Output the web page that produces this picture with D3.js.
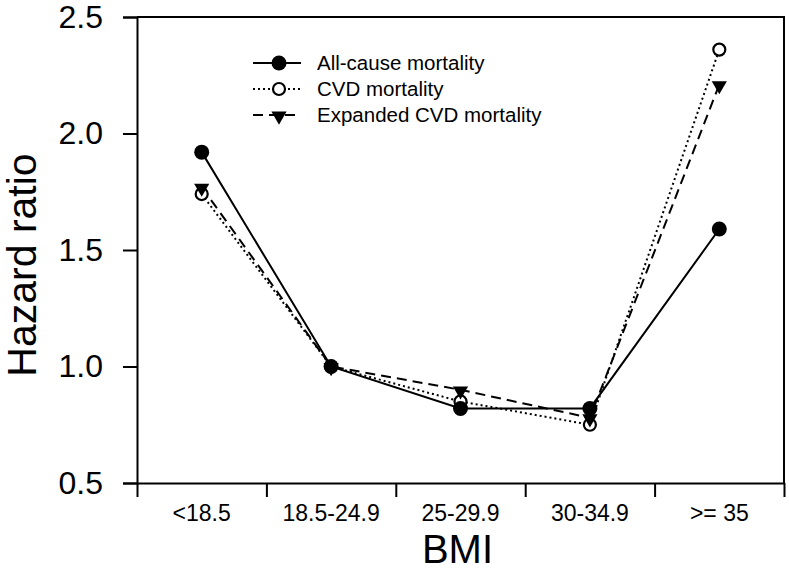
<!DOCTYPE html>
<html>
<head>
<meta charset="utf-8">
<script src="https://cdn.jsdelivr.net/npm/d3@7/dist/d3.min.js"></script>
<style>
  html, body { margin: 0; padding: 0; background: #fff; }
  svg { display: block; font-family: "Liberation Sans", Arial, Helvetica, sans-serif; }
</style>
</head>
<body>
<svg id="chart" width="789" height="572"></svg>
<script>
const categories = ["<18.5", "18.5-24.9", "25-29.9", "30-34.9", ">= 35"];
const allCause = [1.92, 1.00, 0.82, 0.82, 1.59];
const cvd = [1.74, 1.00, 0.85, 0.75, 2.36];
const expandedCvd = [1.77, 1.00, 0.90, 0.78, 2.21];
const yTicks = [0.5, 1.0, 1.5, 2.0, 2.5];
const seriesNames = ["All-cause mortality", "CVD mortality", "Expanded CVD mortality"];

const svg = d3.select("#chart");
const L = 137, R = 784, T = 17, B = 483;

const x = d3.scaleBand().domain(categories).range([L, R]).padding(0);
const xb = d3.scaleLinear().domain([0, categories.length]).range([L, R]);
const y = d3.scaleLinear().domain([0.5, 2.5]).range([B, T]);
const cx = c => x(c) + x.bandwidth() / 2;

// frame
svg.append("path")
  .attr("d", `M${L},${T}H${R}V${B}`)
  .attr("fill", "none").attr("stroke", "#000").attr("stroke-width", 2);

// y axis
const yAxis = svg.append("g").attr("transform", `translate(${L},0)`)
  .call(d3.axisLeft(y).tickValues(yTicks).tickFormat(d3.format(".1f")).tickSize(14).tickPadding(20));
yAxis.select(".domain").attr("stroke-width", 2);
yAxis.selectAll(".tick line").attr("stroke-width", 2);
yAxis.selectAll(".tick text").attr("font-size", 32).attr("font-family", "Liberation Sans, Arial, sans-serif").attr("fill", "#000");

// x axis (boundary ticks)
const xAxis = svg.append("g").attr("transform", `translate(0,${B})`)
  .call(d3.axisBottom(xb).tickValues(d3.range(0, categories.length + 1)).tickFormat("").tickSize(14).tickSizeOuter(0));
xAxis.select(".domain").attr("stroke-width", 2);
xAxis.selectAll(".tick line").attr("stroke-width", 2);

// x labels
svg.append("g").selectAll("text").data(categories).join("text")
  .attr("x", d => cx(d)).attr("y", 521)
  .attr("text-anchor", "middle").attr("font-size", 23).text(d => d);

// axis titles
svg.append("text").attr("x", (L + R) / 2 - 3).attr("y", 563)
  .attr("text-anchor", "middle").attr("font-size", 40).text("BMI");
svg.append("text").attr("transform", "translate(36,265) rotate(-90)")
  .attr("text-anchor", "middle").attr("font-size", 41).text("Hazard ratio");

const line = d3.line().x((d, i) => cx(categories[i])).y(d => y(d));

const styles = [
  { data: allCause, dash: null, marker: "filled" },
  { data: cvd, dash: "2,3", marker: "open" },
  { data: expandedCvd, dash: "10,6", marker: "tri" }
];

const triPath = d3.symbol().type(d3.symbolTriangle).size(100)();

function drawMarker(g, type, px, py) {
  if (type === "filled") {
    g.append("circle").attr("cx", px).attr("cy", py).attr("r", 7.5).attr("fill", "#000");
  } else if (type === "open") {
    g.append("circle").attr("cx", px).attr("cy", py).attr("r", 6).attr("fill", "#fff").attr("stroke", "#000").attr("stroke-width", 2.2);
  } else {
    g.append("path").attr("d", triPath).attr("transform", `translate(${px},${py + 1}) rotate(180)`).attr("fill", "#000");
  }
}

// lines
const order = [1, 2, 0];
order.forEach(k => {
  const s = styles[k];
  svg.append("path").datum(s.data).attr("d", line)
    .attr("fill", "none").attr("stroke", "#000").attr("stroke-width", 2)
    .attr("stroke-dasharray", s.dash);
});
// markers
order.forEach(k => {
  const s = styles[k];
  const g = svg.append("g");
  s.data.forEach((v, i) => drawMarker(g, s.marker, cx(categories[i]), y(v)));
});

// legend
const legY = [63, 89, 115];
seriesNames.forEach((name, k) => {
  const s = styles[k];
  const g = svg.append("g");
  g.append("line").attr("x1", 253).attr("x2", 301).attr("y1", legY[k]).attr("y2", legY[k])
    .attr("stroke", "#000").attr("stroke-width", 2).attr("stroke-dasharray", s.dash);
  drawMarker(g, s.marker, 279, legY[k]);
  g.append("text").attr("x", 317).attr("y", legY[k] + 7).attr("font-size", 20.5).text(name);
});
</script>
</body>
</html>
